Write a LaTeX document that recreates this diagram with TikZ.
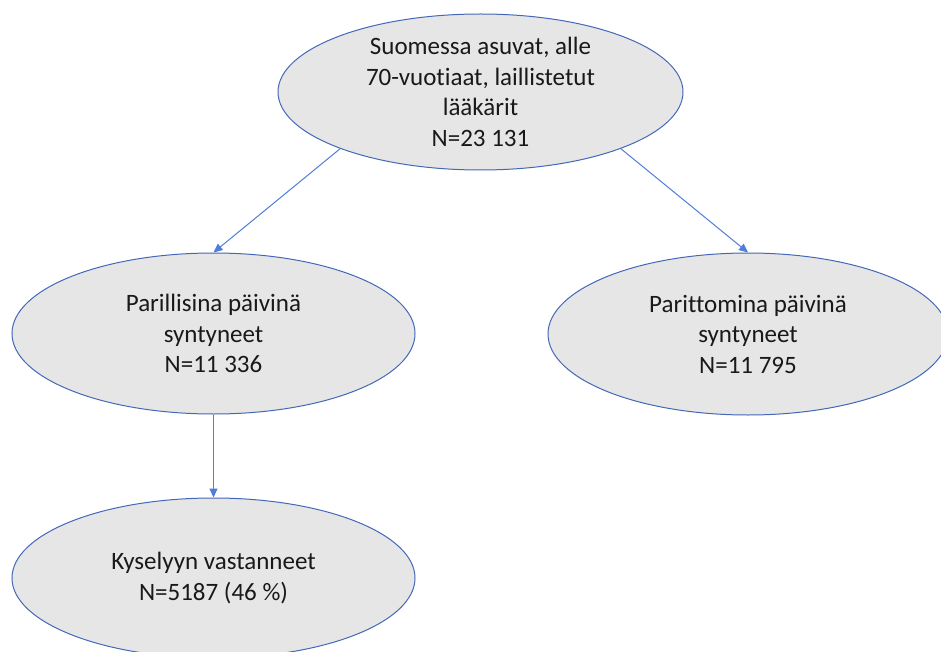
\documentclass[tikz,border=0pt]{standalone}
\usepackage{fontspec}
\setmainfont[Ligatures=NoCommon]{Carlito}
\usetikzlibrary{shapes.geometric,arrows.meta}
\definecolor{ellfill}{RGB}{230,230,230}
\definecolor{ellline}{RGB}{68,104,184}
\definecolor{arrline}{RGB}{80,125,215}
\tikzset{
  ell/.style={ellipse,draw=ellline,fill=ellfill,line width=1pt,inner sep=0pt,
    align=center,font=\fontsize{25}{30.5}\selectfont,text=black!90},
  conn/.style={draw=arrline,line width=1pt,-{Triangle[length=9pt,width=8pt]}}
}
\begin{document}
\begin{tikzpicture}[x=1pt,y=-1pt]
\useasboundingbox (0,0) rectangle (941,652);
\clip (0,0) rectangle (941,652);
\node[ell,minimum width=405pt,minimum height=156pt] (top) at (480.5,92)
  {Suomessa asuvat, alle\\70-vuotiaat, laillistetut\\lääkärit\\N=23 131};
\node[ell,minimum width=403pt,minimum height=161pt] (left) at (213.5,333.5)
  {Parillisina päivinä\\syntyneet\\N=11 336};
\node[ell,minimum width=400pt,minimum height=162pt] (right) at (748,334)
  {Parittomina päivinä\\syntyneet\\N=11 795};
\node[ell,minimum width=403pt,minimum height=160pt] (bottom) at (213.5,578)
  {Kyselyyn vastanneet\\N=5187 (46 \%)};
\draw[conn] (top.202) -- (left.north);
\draw[conn] (top.338) -- (right.north);
\draw[conn] (left.south) -- (bottom.north);
\end{tikzpicture}
\end{document}
